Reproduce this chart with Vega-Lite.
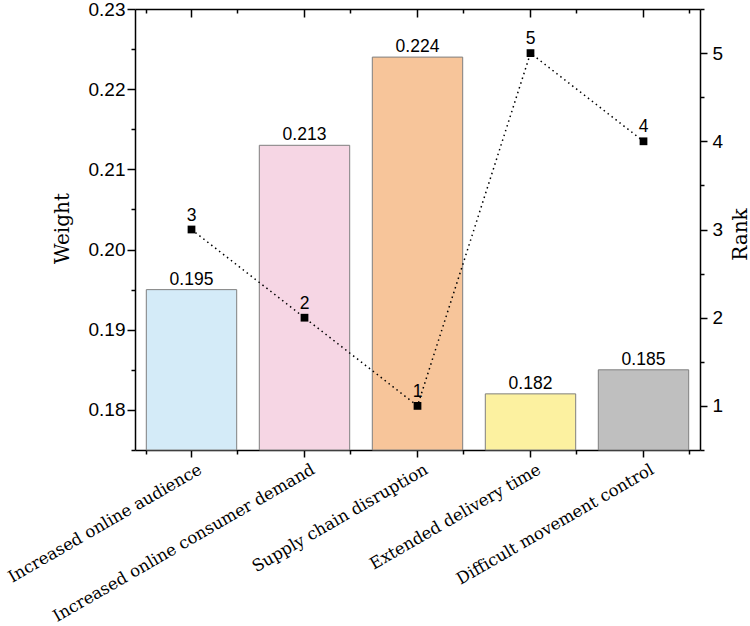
{
  "$schema": "https://vega.github.io/schema/vega-lite/v6.json",
  "width": 565,
  "height": 441,
  "autosize": {"type": "none"},
  "padding": {"left": 135, "top": 9, "right": 50, "bottom": 176},
  "config": {
    "view": {"stroke": null},
    "font": "Liberation Sans",
    "axis": {
      "grid": false,
      "domainColor": "black",
      "domainWidth": 1.5,
      "tickColor": "black",
      "tickWidth": 1.5,
      "labelColor": "black",
      "labelFont": "Liberation Sans",
      "labelFontSize": 19,
      "titleColor": "black",
      "titleFont": "DejaVu Serif",
      "titleFontWeight": "normal",
      "titleFontSize": 20
    }
  },
  "data": {
    "values": [
      {"factor": "Increased online audience", "weight": 0.195, "rank": 3},
      {"factor": "Increased online consumer demand", "weight": 0.213, "rank": 2},
      {"factor": "Supply chain disruption", "weight": 0.224, "rank": 1},
      {"factor": "Extended delivery time", "weight": 0.182, "rank": 5},
      {"factor": "Difficult movement control", "weight": 0.185, "rank": 4}
    ]
  },
  "encoding": {
    "x": {
      "field": "factor",
      "type": "nominal",
      "sort": null,
      "scale": {"paddingInner": 0.2, "paddingOuter": 0.1}
    }
  },
  "layer": [
    {
      "mark": {"type": "bar", "stroke": "#7f7f7f", "strokeWidth": 1},
      "encoding": {
        "x": {
          "field": "factor",
          "type": "nominal",
          "sort": null,
          "axis": {
            "orient": "bottom",
            "title": null,
            "labelAngle": -30,
            "labelAlign": "right",
            "labelBaseline": "top",
            "labelFont": "DejaVu Serif",
            "labelFontSize": 16.5,
            "labelPadding": 4,
            "labelOffset": 5,
            "labelLimit": 400,
            "tickSize": 7
          }
        },
        "y": {
          "field": "weight",
          "type": "quantitative",
          "scale": {"domain": [0.175, 0.23], "zero": false, "nice": false},
          "axis": {
            "orient": "left",
            "title": "Weight",
            "titleAngle": 270,
            "titleAlign": "center",
            "titleBaseline": "middle",
            "titleX": -73,
            "titleY": 219,
            "values": [0.175, 0.18, 0.185, 0.19, 0.195, 0.2, 0.205, 0.21, 0.215, 0.22, 0.225, 0.23],
            "labelExpr": "abs(datum.value * 100 - round(datum.value * 100)) < 0.01 ? format(datum.value, '.2f') : ''",
            "tickSize": {"condition": {"test": "abs(datum.value * 100 - round(datum.value * 100)) < 0.01", "value": 8}, "value": 4},
            "labelPadding": 2
          }
        },
        "y2": {"datum": 0.175},
        "color": {
          "field": "factor",
          "type": "nominal",
          "sort": null,
          "scale": {"range": ["#d4ebf8", "#f6d6e4", "#f7c59a", "#fcf1a0", "#bfbfbf"]},
          "legend": null
        }
      }
    },
    {
      "mark": {"type": "text", "baseline": "bottom", "dy": -1, "fontSize": 17.5, "color": "black"},
      "encoding": {
        "x": {
          "field": "factor",
          "type": "nominal",
          "sort": null,
          "axis": {"orient": "bottom", "title": null, "labels": false, "domain": false, "tickBand": "extent", "tickSize": 4}
        },
        "y": {
          "field": "weight",
          "type": "quantitative",
          "scale": {"domain": [0.175, 0.23], "zero": false, "nice": false},
          "axis": null
        },
        "text": {"field": "weight", "type": "quantitative", "format": ".3f"}
      }
    },
    {
      "mark": {"type": "line", "color": "black", "strokeWidth": 1.5, "strokeDash": [1.5, 3.5]},
      "encoding": {
        "x": {
          "field": "factor",
          "type": "nominal",
          "sort": null,
          "axis": {"orient": "top", "title": null, "labels": false, "tickSize": -8}
        },
        "y": {
          "field": "rank",
          "type": "quantitative",
          "scale": {"domain": [0.5, 5.5], "zero": false, "nice": false},
          "axis": {
            "orient": "right",
            "title": "Rank",
            "titleAngle": 270,
            "titleAlign": "center",
            "titleBaseline": "middle",
            "titleX": 40,
            "titleY": 225,
            "values": [0.5, 1, 1.5, 2, 2.5, 3, 3.5, 4, 4.5, 5, 5.5],
            "labelExpr": "datum.value % 1 == 0 ? format(datum.value, 'd') : ''",
            "tickSize": {"condition": {"test": "datum.value % 1 == 0", "value": 7}, "value": 4},
            "labelPadding": 5
          }
        }
      }
    },
    {
      "mark": {"type": "point", "shape": "square", "size": 60, "filled": true, "color": "black", "opacity": 1},
      "encoding": {
        "x": {"field": "factor", "type": "nominal", "sort": null, "axis": null},
        "y": {
          "field": "rank",
          "type": "quantitative",
          "scale": {"domain": [0.5, 5.5], "zero": false, "nice": false},
          "axis": null
        }
      }
    },
    {
      "mark": {"type": "text", "baseline": "bottom", "dy": -5, "fontSize": 17.5, "color": "black"},
      "encoding": {
        "x": {
          "field": "factor",
          "type": "nominal",
          "sort": null,
          "axis": {"orient": "top", "title": null, "labels": false, "domain": false, "tickBand": "extent", "tickSize": -4}
        },
        "y": {
          "field": "rank",
          "type": "quantitative",
          "scale": {"domain": [0.5, 5.5], "zero": false, "nice": false},
          "axis": null
        },
        "text": {"field": "rank", "type": "quantitative"}
      }
    }
  ],
  "resolve": {
    "scale": {"y": "independent"},
    "axis": {"x": "independent", "y": "independent"}
  }
}
